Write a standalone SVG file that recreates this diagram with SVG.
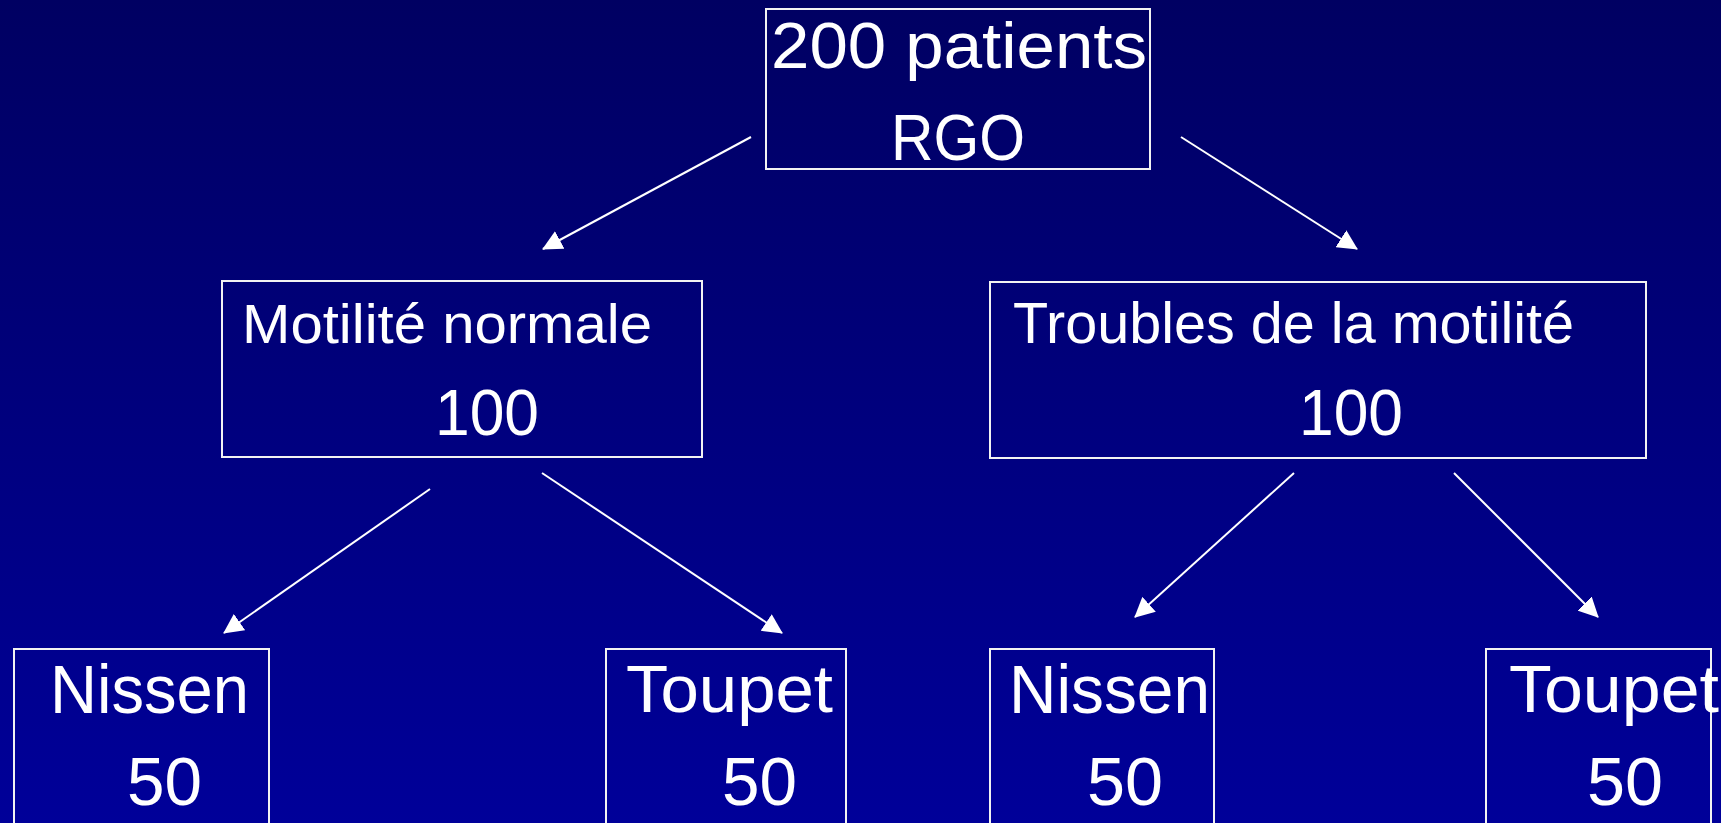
<svg xmlns="http://www.w3.org/2000/svg" width="1721" height="823" viewBox="0 0 1721 823">
  <defs>
    <linearGradient id="bg" x1="0" y1="0" x2="0" y2="1">
      <stop offset="0" stop-color="#000062"/>
      <stop offset="1" stop-color="#000099"/>
    </linearGradient>
    <marker id="arrow" viewBox="0 0 20 20" refX="19" refY="10" markerWidth="20" markerHeight="20" markerUnits="userSpaceOnUse" orient="auto">
      <path d="M0,0 L20,10 L0,20 z" fill="#FFFFFF"/>
    </marker>
    <style>
      .box { fill: none; stroke: #F2F2F2; stroke-width: 2; }
      .lbl { fill: #FFFFFF; font-family: "Liberation Sans", "DejaVu Sans", sans-serif; }
      .conn { stroke: #FFFFFF; stroke-width: 2; fill: none; marker-end: url(#arrow); }
    </style>
  </defs>
  <rect x="0" y="0" width="1721" height="823" fill="url(#bg)"/>

  <g id="connectors">
    <line class="conn" x1="751" y1="137" x2="543" y2="249"/>
    <line class="conn" x1="1181" y1="137" x2="1357" y2="249"/>
    <line class="conn" x1="430" y1="489" x2="224" y2="633"/>
    <line class="conn" x1="542" y1="473" x2="782" y2="633"/>
    <line class="conn" x1="1294" y1="473" x2="1135" y2="617"/>
    <line class="conn" x1="1454" y1="473" x2="1598" y2="617"/>
  </g>

  <g id="node-root">
    <rect class="box" x="766" y="9" width="384" height="160"/>
    <text class="lbl" x="771" y="68" font-size="65" textLength="376" lengthAdjust="spacingAndGlyphs">200 patients</text>
    <text class="lbl" x="891" y="160" font-size="65" textLength="134" lengthAdjust="spacingAndGlyphs">RGO</text>
  </g>

  <g id="node-motilite-normale">
    <rect class="box" x="222" y="281" width="480" height="176"/>
    <text class="lbl" x="242" y="343" font-size="56" textLength="410" lengthAdjust="spacingAndGlyphs">Motilité normale</text>
    <text class="lbl" x="435" y="435" font-size="65" textLength="104" lengthAdjust="spacingAndGlyphs">100</text>
  </g>

  <g id="node-troubles">
    <rect class="box" x="990" y="282" width="656" height="176"/>
    <text class="lbl" x="1013" y="343" font-size="57" textLength="561" lengthAdjust="spacingAndGlyphs">Troubles de la motilité</text>
    <text class="lbl" x="1299" y="435" font-size="65" textLength="104" lengthAdjust="spacingAndGlyphs">100</text>
  </g>

  <g id="node-nissen-1">
    <rect class="box" x="14" y="649" width="255" height="200"/>
    <text class="lbl" x="50" y="713" font-size="69" textLength="199" lengthAdjust="spacingAndGlyphs">Nissen</text>
    <text class="lbl" x="127" y="805" font-size="69" textLength="75" lengthAdjust="spacingAndGlyphs">50</text>
  </g>

  <g id="node-toupet-1">
    <rect class="box" x="606" y="649" width="240" height="200"/>
    <text class="lbl" x="626" y="712" font-size="66" textLength="207" lengthAdjust="spacingAndGlyphs">Toupet</text>
    <text class="lbl" x="722" y="805" font-size="69" textLength="75" lengthAdjust="spacingAndGlyphs">50</text>
  </g>

  <g id="node-nissen-2">
    <rect class="box" x="990" y="649" width="224" height="200"/>
    <text class="lbl" x="1009" y="713" font-size="69" textLength="201" lengthAdjust="spacingAndGlyphs">Nissen</text>
    <text class="lbl" x="1087" y="805" font-size="69" textLength="76" lengthAdjust="spacingAndGlyphs">50</text>
  </g>

  <g id="node-toupet-2">
    <rect class="box" x="1486" y="649" width="225" height="200"/>
    <text class="lbl" x="1509" y="712" font-size="66" textLength="210" lengthAdjust="spacingAndGlyphs">Toupet</text>
    <text class="lbl" x="1587" y="805" font-size="69" textLength="76" lengthAdjust="spacingAndGlyphs">50</text>
  </g>
</svg>
